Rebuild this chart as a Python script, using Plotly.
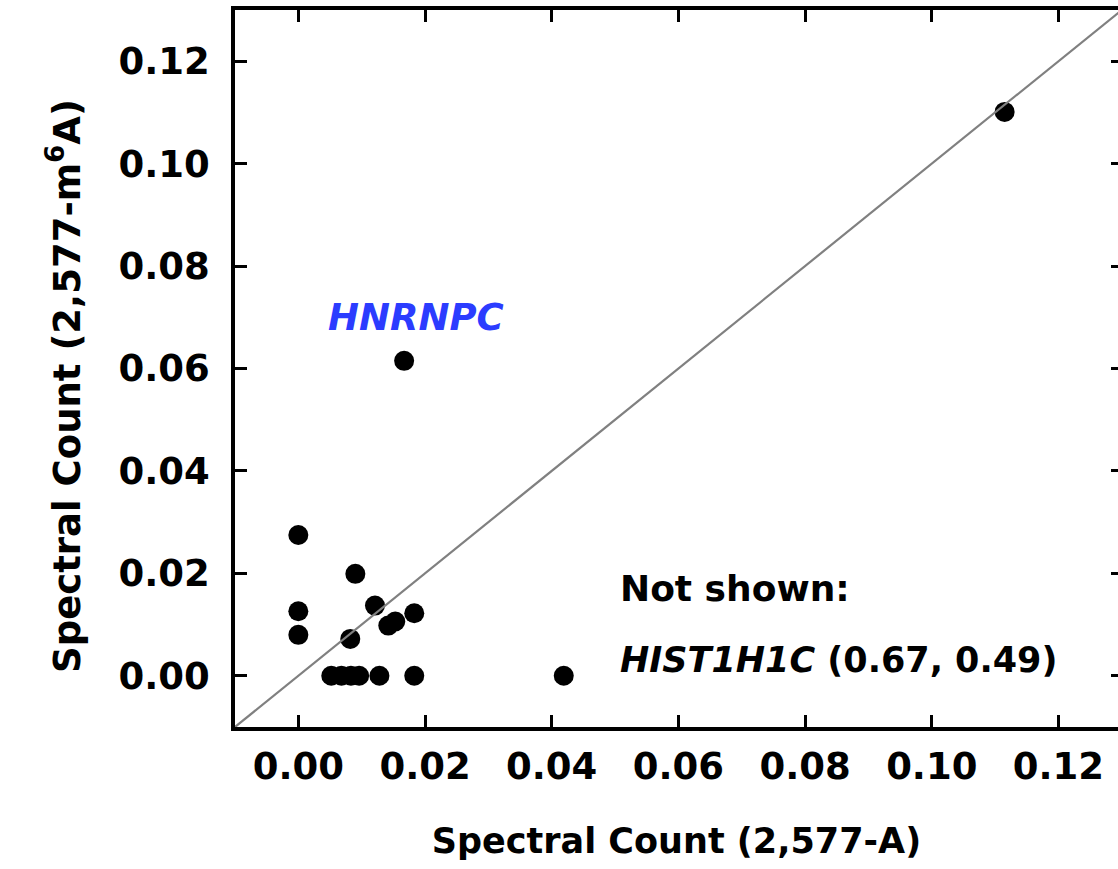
import plotly.graph_objects as go

# Data
x_vals = [0.0000, 0.0090, 0.0000, 0.0000, 0.0121, 0.0082, 0.0142, 0.0153, 0.0183,
          0.0052, 0.0068, 0.0083, 0.0096, 0.0128, 0.0183, 0.0419, 0.0167, 0.1115]
y_vals = [0.0275, 0.0199, 0.0126, 0.0080, 0.0137, 0.0072, 0.0098, 0.0106, 0.0122,
          0.0000, 0.0000, 0.0000, 0.0000, 0.0000, 0.0000, 0.0000, 0.0615, 0.1101]
diag = [-0.01, 0.13]
tick_vals = [0.00, 0.02, 0.04, 0.06, 0.08, 0.10, 0.12]
tick_text = ["0.00", "0.02", "0.04", "0.06", "0.08", "0.10", "0.12"]

FONT = "DejaVu Sans"
tickfont = dict(family=FONT, size=37, color="black", weight=700)
titlefont = dict(family=FONT, size=35, color="black", weight=700)

fig = go.Figure()
fig.add_trace(go.Scatter(x=x_vals, y=y_vals, mode="markers",
                         marker=dict(size=20, color="black", line=dict(width=0)),
                         showlegend=False, hoverinfo="skip"))
fig.add_trace(go.Scatter(x=diag, y=diag, mode="lines", yaxis="y2",
                         line=dict(color="#808080", width=2.2),
                         showlegend=False, hoverinfo="skip"))

fig.update_layout(
    width=1118, height=869,
    margin=dict(l=235, r=0, t=10, b=142, autoexpand=False),
    paper_bgcolor="white", plot_bgcolor="white",
    xaxis=dict(range=[-0.01, 0.1294], tickvals=tick_vals, ticktext=tick_text,
               ticks="inside", ticklen=12, tickwidth=2.5, tickcolor="black",
               showline=True, linewidth=3.5, linecolor="black", mirror="ticks",
               showgrid=False, zeroline=False, tickfont=tickfont, automargin=False,
               ticklabelstandoff=4,
               title=dict(text="Spectral Count (2,577-A)", font=titlefont, standoff=42)),
    yaxis=dict(range=[-0.01, 0.13], tickvals=tick_vals, ticktext=tick_text,
               ticks="inside", ticklen=12, tickwidth=2.5, tickcolor="black",
               showline=True, linewidth=3.5, linecolor="black", mirror=False,
               showgrid=False, zeroline=False, tickfont=tickfont, automargin=False,
               ticklabelstandoff=14),
    yaxis2=dict(range=[-0.01, 0.13], overlaying="y", side="right",
                tickvals=tick_vals, ticks="inside", ticklen=7, tickwidth=2.5,
                tickcolor="black", showticklabels=False, showline=False,
                showgrid=False, zeroline=False, automargin=False),
    annotations=[
        dict(x=-0.193, y=0.475, xref="paper", yref="paper",
             text="<b>Spectral Count (2,577-m<sup>6</sup>A)</b>", textangle=-90,
             showarrow=False, xanchor="center", yanchor="middle",
             font=dict(family=FONT, size=37, color="black")),
        dict(x=0.0185, y=0.0699, xref="x", yref="y", text="<b><i>HNRNPC</i></b>",
             showarrow=False, xanchor="center", yanchor="middle",
             font=dict(family=FONT, size=37, color="#2b3cff")),
        dict(x=0.0505, y=0.0171, xref="x", yref="y", text="<b>Not shown:</b>",
             showarrow=False, xanchor="left", yanchor="middle",
             font=dict(family=FONT, size=36, color="black")),
        dict(x=0.0505, y=0.0031, xref="x", yref="y",
             text="<b><i>HIST1H1C</i> (0.67, 0.49)</b>",
             showarrow=False, xanchor="left", yanchor="middle",
             font=dict(family=FONT, size=35, color="black")),
    ],
)

fig.write_html("out.html", config={"displayModeBar": False},
               post_script="document.body.style.margin='0px';")
